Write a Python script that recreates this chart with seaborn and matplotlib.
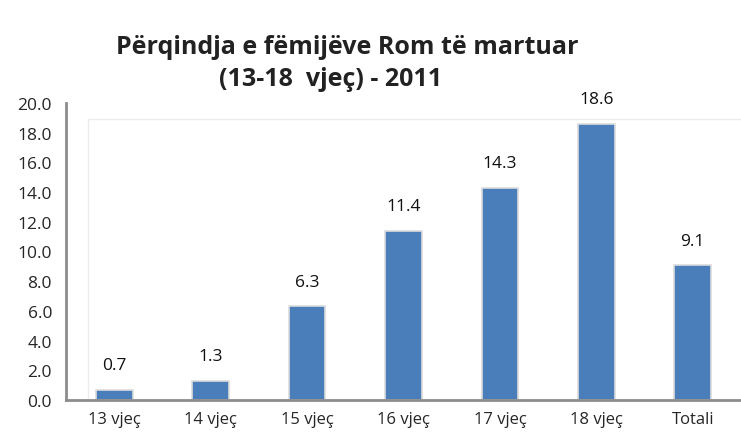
import pandas as pd
import matplotlib.pyplot as plt
import seaborn as sns
from matplotlib.patches import Rectangle

# -------------------------------------------------
# Datos
kategorite = ["13 vjeç", "14 vjeç", "15 vjeç", "16 vjeç", "17 vjeç", "18 vjeç", "Totali"]
perqindja = [0.7, 1.3, 6.3, 11.4, 14.3, 18.6, 9.1]
etiketat = ["0.7", "1.3", "6.3", "11.4", "14.3", "18.6", "9.1"]
y_ticks = [0, 2, 4, 6, 8, 10, 12, 14, 16, 18, 20]

df = pd.DataFrame({"kategoria": kategorite, "vlera": perqindja})

sns.set_style("white")
plt.rcParams['font.family'] = ['Open Sans', 'DejaVu Sans']

fig = plt.figure(figsize=(7.41, 4.39), dpi=100)
ax = fig.add_axes([66 / 741, 38 / 439, 1 - 66 / 741, 297 / 439])

sns.barplot(data=df, x="kategoria", y="vlera", color="#4A7EBB", width=0.38,
            edgecolor="#dcdcdc", linewidth=1.2, ax=ax, saturation=1)

for i, (v, t) in enumerate(zip(perqindja, etiketat)):
    ax.text(i, v + 1.1, t, ha='center', va='bottom', fontsize=12.5, color="#111111")

# marco interior tenue
ax.add_patch(Rectangle((-0.27, 0), 6.92, 18.9, fill=False, edgecolor="#ececec",
                       linewidth=1, zorder=0))

ax.set_xlim(-0.5, 6.5)
ax.set_ylim(0, 20)
ax.set_yticks(y_ticks)
ax.set_yticklabels([f"{v:.1f}" for v in y_ticks], fontsize=12.5)
ax.tick_params(axis='x', labelsize=12, length=0, pad=8)
ax.tick_params(axis='y', length=0, pad=10)
ax.set_xlabel("")
ax.set_ylabel("")

for s in ["top", "right"]:
    ax.spines[s].set_visible(False)
for s in ["left", "bottom"]:
    ax.spines[s].set_color("#8c8c8c")
    ax.spines[s].set_linewidth(2)

fig.text(347 / 741, 1 - 48 / 439, "Përqindja e fëmijëve Rom të martuar",
         ha='center', va='center', fontsize=18, fontweight='bold', color="#222222")
fig.text(331 / 741, 1 - 80 / 439, "(13-18  vjeç) - 2011",
         ha='center', va='center', fontsize=18, fontweight='bold', color="#222222")

fig.savefig("out.png", dpi=100)
